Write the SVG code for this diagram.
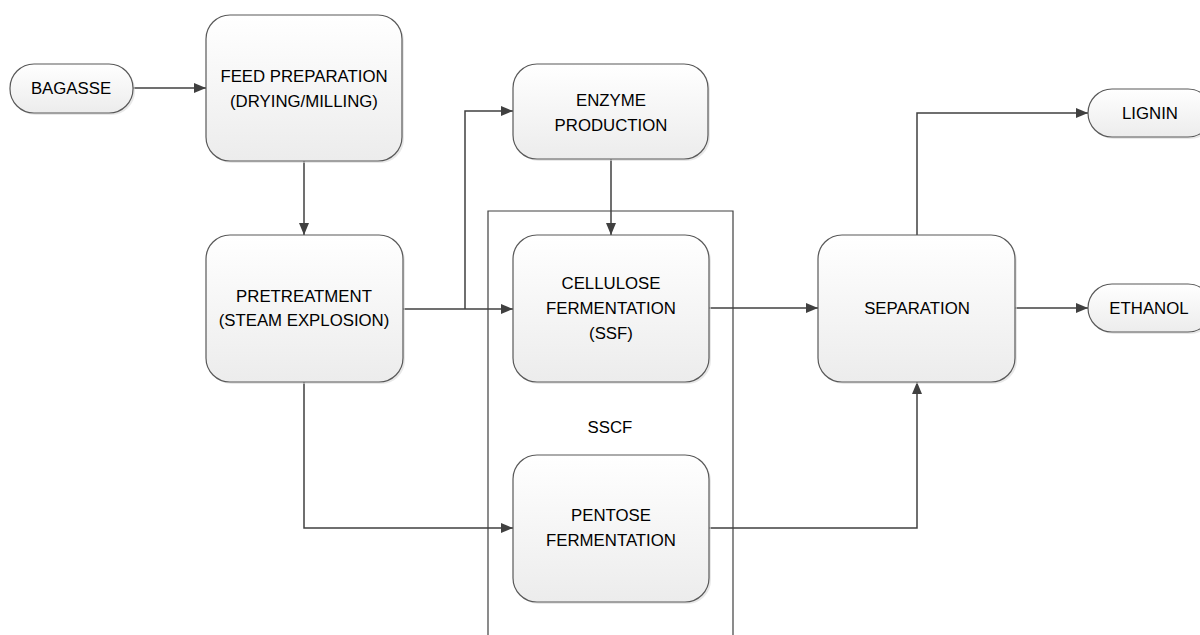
<svg xmlns="http://www.w3.org/2000/svg" width="1200" height="635" viewBox="0 0 1200 635">
<style>
.box{fill:url(#g);stroke:#595959;stroke-width:1.2}
.sh{fill:#d9d9d9;opacity:0.6}
.t{font-family:"Liberation Sans",Arial,sans-serif;font-size:16.8px;fill:#000;text-anchor:middle}
.c{fill:none;stroke:#404040;stroke-width:1.5}
</style>
<defs>
<linearGradient id="g" x1="0" y1="0" x2="0" y2="1">
<stop offset="0" stop-color="#ffffff"/>
<stop offset="1" stop-color="#ececec"/>
</linearGradient>
<marker id="a" viewBox="0 0 12 10" refX="12" refY="5" markerWidth="12" markerHeight="10" markerUnits="userSpaceOnUse" orient="auto">
<path d="M0,0 L12,5 L0,10 z" fill="#404040"/>
</marker>
</defs>
<rect width="1200" height="635" fill="#fff"/>
<g id="sscf">
<path d="M488,635 V211 H733 V635" fill="none" stroke="#404040" stroke-width="1.2"/>
<text class="t" x="610" y="433">SSCF</text>
</g>
<g id="connectors">
<path class="c" d="M133,88 H206" marker-end="url(#a)"/>
<path class="c" d="M304,161 V235" marker-end="url(#a)"/>
<path class="c" d="M403,309 H513" marker-end="url(#a)"/>
<path class="c" d="M465,309 V111 H513" marker-end="url(#a)"/>
<path class="c" d="M611,159 V235" marker-end="url(#a)"/>
<path class="c" d="M304,382 V528 H513" marker-end="url(#a)"/>
<path class="c" d="M709,308 H818" marker-end="url(#a)"/>
<path class="c" d="M709,528 H917 V382" marker-end="url(#a)"/>
<path class="c" d="M917,235 V113 H1088" marker-end="url(#a)"/>
<path class="c" d="M1015,308 H1088" marker-end="url(#a)"/>
</g>
<g id="bagasse">
<rect class="sh" x="12" y="66" width="123" height="49" rx="24"/>
<rect class="box" x="10" y="64" width="123" height="49" rx="24"/>
<text class="t" x="71" y="94">BAGASSE</text>
</g>
<g id="feed">
<rect class="sh" x="208" y="17" width="196" height="146" rx="24"/>
<rect class="box" x="206" y="15" width="196" height="146" rx="24"/>
<text class="t" x="304" y="82">FEED PREPARATION</text>
<text class="t" x="304" y="107">(DRYING/MILLING)</text>
</g>
<g id="pretreatment">
<rect class="sh" x="208" y="237" width="197" height="147" rx="24"/>
<rect class="box" x="206" y="235" width="197" height="147" rx="24"/>
<text class="t" x="304" y="302">PRETREATMENT</text>
<text class="t" x="304" y="326">(STEAM EXPLOSION)</text>
</g>
<g id="enzyme">
<rect class="sh" x="515" y="66" width="195" height="95" rx="24"/>
<rect class="box" x="513" y="64" width="195" height="95" rx="24"/>
<text class="t" x="611" y="106">ENZYME</text>
<text class="t" x="611" y="131">PRODUCTION</text>
</g>
<g id="cellulose">
<rect class="sh" x="515" y="237" width="196" height="147" rx="24"/>
<rect class="box" x="513" y="235" width="196" height="147" rx="24"/>
<text class="t" x="611" y="289">CELLULOSE</text>
<text class="t" x="611" y="314">FERMENTATION</text>
<text class="t" x="611" y="339">(SSF)</text>
</g>
<g id="pentose">
<rect class="sh" x="515" y="457" width="196" height="147" rx="24"/>
<rect class="box" x="513" y="455" width="196" height="147" rx="24"/>
<text class="t" x="611" y="521">PENTOSE</text>
<text class="t" x="611" y="546">FERMENTATION</text>
</g>
<g id="separation">
<rect class="sh" x="820" y="237" width="197" height="147" rx="24"/>
<rect class="box" x="818" y="235" width="197" height="147" rx="24"/>
<text class="t" x="917" y="314">SEPARATION</text>
</g>
<g id="lignin">
<rect class="sh" x="1090" y="91" width="124" height="48" rx="24"/>
<rect class="box" x="1088" y="89" width="124" height="48" rx="24"/>
<text class="t" x="1150" y="119">LIGNIN</text>
</g>
<g id="ethanol">
<rect class="sh" x="1090" y="286" width="124" height="48" rx="24"/>
<rect class="box" x="1088" y="284" width="124" height="48" rx="24"/>
<text class="t" x="1149" y="314">ETHANOL</text>
</g>
</svg>
